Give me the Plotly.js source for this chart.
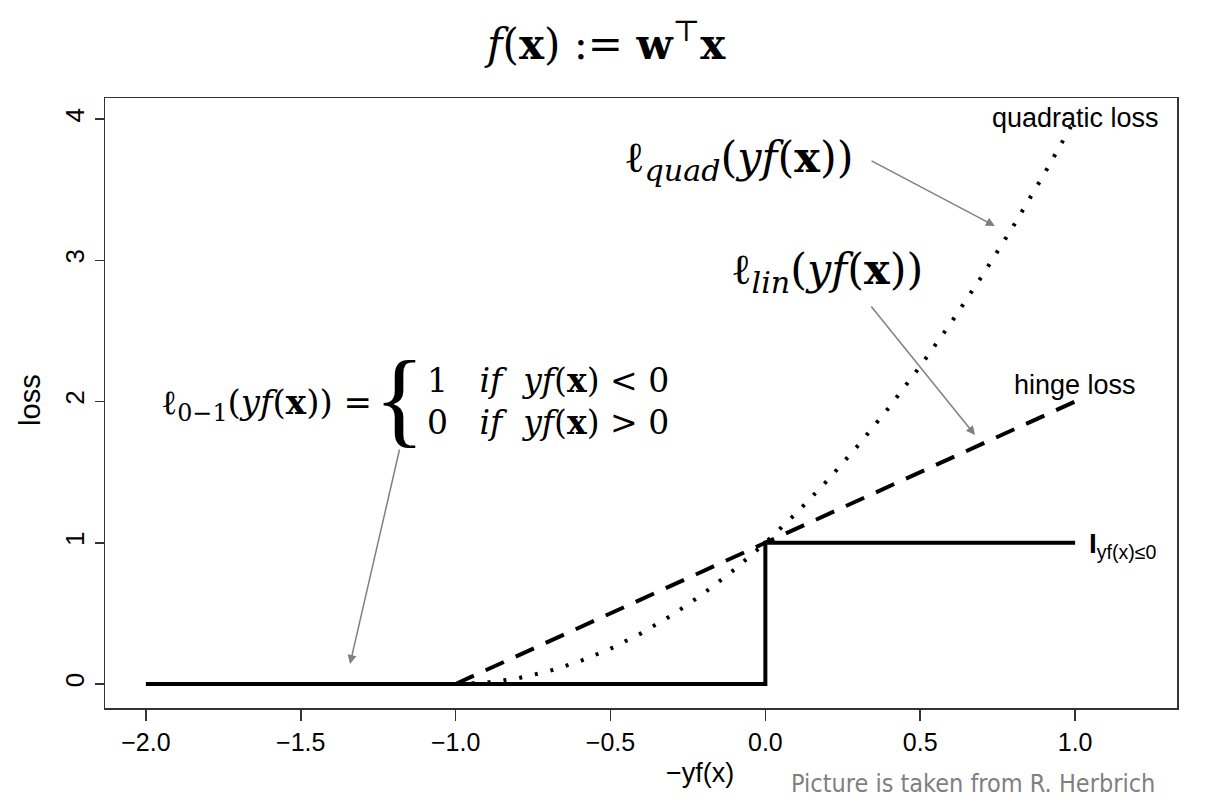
<!DOCTYPE html>
<html>
<head>
<meta charset="utf-8">
<script src="https://cdn.plot.ly/plotly-3.0.1.min.js"></script>
<style>html,body{margin:0;padding:0;background:#fff;}#chart{width:1218px;height:802px;}</style>
</head>
<body>
<div id="chart"></div>
<script>
// 0-1 loss (step)
const stepX = [-2, 0, 0, 1];
const stepY = [0, 0, 1, 1];
// hinge loss (dashed)
const hingeX = [-1, 0, 1];
const hingeY = [0, 1, 2];
// quadratic loss (dotted)
const quadX = [-1, -0.9, -0.8, -0.7, -0.6, -0.5, -0.4, -0.3, -0.2, -0.1, 0, 0.1, 0.2, 0.3, 0.4, 0.5, 0.6, 0.7, 0.8, 0.9, 1];
const quadY = [0, 0.01, 0.04, 0.09, 0.16, 0.25, 0.36, 0.49, 0.64, 0.81, 1, 1.21, 1.44, 1.69, 1.96, 2.25, 2.56, 2.89, 3.24, 3.61, 4];
const xTicks = [-2, -1.5, -1, -0.5, 0, 0.5, 1];
const xTickText = ['\u22122.0', '\u22121.5', '\u22121.0', '\u22120.5', '0.0', '0.5', '1.0'];
const yTicks = [0, 1, 2, 3, 4];

const serif = 'DejaVu Serif, Liberation Serif, serif';
const sans = 'Liberation Sans, Arial, sans-serif';

const traces = [
  {x: quadX, y: quadY, mode: 'lines', line: {color: '#000', width: 4, dash: '3px,13px'}, hoverinfo: 'skip'},
  {x: hingeX, y: hingeY, mode: 'lines', line: {color: '#000', width: 4, dash: '20px,13px'}, hoverinfo: 'skip'},
  {x: stepX, y: stepY, mode: 'lines', line: {color: '#000', width: 4}, hoverinfo: 'skip'}
];

const arrowColor = '#808080';
const annotations = [
  {xref: 'paper', yref: 'paper', x: 0.466, y: 1.092, xanchor: 'center', yanchor: 'middle', text: '<i>f</i>(<b>x</b>) := <b>w</b><sup>\u22A4</sup><b>x</b>', showarrow: false, font: {family: serif, size: 42, color: '#000'}},
  {x: -0.088, y: 3.71, text: '\u2113<sub><i>quad</i></sub>(<i>yf</i>(<b>x</b>))', showarrow: false, font: {family: serif, size: 43, color: '#000'}},
  {x: 0.199, y: 2.917, text: '\u2113<sub><i>lin</i></sub>(<i>yf</i>(<b>x</b>))', showarrow: false, font: {family: serif, size: 43, color: '#000'}},
  {x: -1.265, y: 1.98, xanchor: 'right', text: '\u2113<sub>0\u22121</sub>(<i>yf</i>(<b>x</b>)) =', showarrow: false, font: {family: serif, size: 34, color: '#000'}},
  {x: -1.18, y: 2.02, text: '{', showarrow: false, font: {family: 'Liberation Serif, serif', size: 106, color: '#000'}},
  {x: -1.099, y: 2.152, xanchor: 'left', text: '1   <i>if  yf</i>(<b>x</b>) < 0', showarrow: false, font: {family: serif, size: 33, color: '#000'}},
  {x: -1.099, y: 1.848, xanchor: 'left', text: '0   <i>if  yf</i>(<b>x</b>) > 0', showarrow: false, font: {family: serif, size: 33, color: '#000'}},
  {x: 1.0, y: 4.007, text: 'quadratic loss', showarrow: false, font: {family: sans, size: 27, color: '#000'}},
  {x: 1.0, y: 2.117, text: 'hinge loss', showarrow: false, font: {family: sans, size: 27, color: '#000'}},
  {x: 1.04, y: 0.98, xanchor: 'left', text: '<b>I</b><sub>yf(x)\u22640</sub>', showarrow: false, font: {family: sans, size: 28, color: '#000'}},
  {xref: 'paper', yref: 'paper', x: 0.555, y: -0.1066, xanchor: 'center', yanchor: 'middle', text: '\u2212yf(x)', showarrow: false, font: {family: sans, size: 27, color: '#000'}},
  {xref: 'paper', yref: 'paper', x: -0.07, y: 0.505, xanchor: 'center', yanchor: 'middle', textangle: -90, text: 'loss', showarrow: false, font: {family: sans, size: 29, color: '#000'}},
  {xref: 'paper', yref: 'paper', x: 0.81, y: -0.123, xanchor: 'center', yanchor: 'middle', text: 'Picture is taken from R. Herbrich', showarrow: false, font: {family: 'DejaVu Sans Condensed, DejaVu Sans, sans-serif', size: 25, color: '#7f7f7f'}},
  // arrows
  {x: 0.741, y: 3.243, ax: 0.338, ay: 3.71, axref: 'x', ayref: 'y', text: '', showarrow: true, arrowhead: 2, arrowsize: 1.2, arrowwidth: 1.5, arrowcolor: arrowColor},
  {x: 0.677, y: 1.763, ax: 0.338, ay: 2.683, axref: 'x', ayref: 'y', text: '', showarrow: true, arrowhead: 2, arrowsize: 1.2, arrowwidth: 1.5, arrowcolor: arrowColor},
  {x: -1.341, y: 0.142, ax: -1.18, ay: 1.671, axref: 'x', ayref: 'y', text: '', showarrow: true, arrowhead: 2, arrowsize: 1.2, arrowwidth: 1.5, arrowcolor: arrowColor}
];

const layout = {
  width: 1218, height: 802,
  margin: {l: 105, r: 41, t: 98, b: 94},
  paper_bgcolor: '#fff', plot_bgcolor: '#fff',
  showlegend: false,
  xaxis: {
    range: [-2.132, 1.329], tickvals: xTicks, ticktext: xTickText,
    showgrid: false, zeroline: false, showline: true, mirror: true, linecolor: '#333', linewidth: 1.5,
    ticks: 'outside', ticklen: 11, tickwidth: 1.5, tickcolor: '#333', ticklabelstandoff: 0,
    tickfont: {family: sans, size: 25, color: '#000'}
  },
  yaxis: {
    range: [-0.17, 4.149], tickvals: yTicks,
    showgrid: false, zeroline: false, showline: true, mirror: true, linecolor: '#333', linewidth: 1.5,
    ticks: 'outside', ticklen: 9, tickwidth: 1.5, tickcolor: '#333', tickangle: -90, ticklabelstandoff: 0,
    tickfont: {family: sans, size: 26, color: '#000'}
  },
  annotations: annotations
};

Plotly.newPlot('chart', traces, layout, {displayModeBar: false, staticPlot: true});
</script>
</body>
</html>
